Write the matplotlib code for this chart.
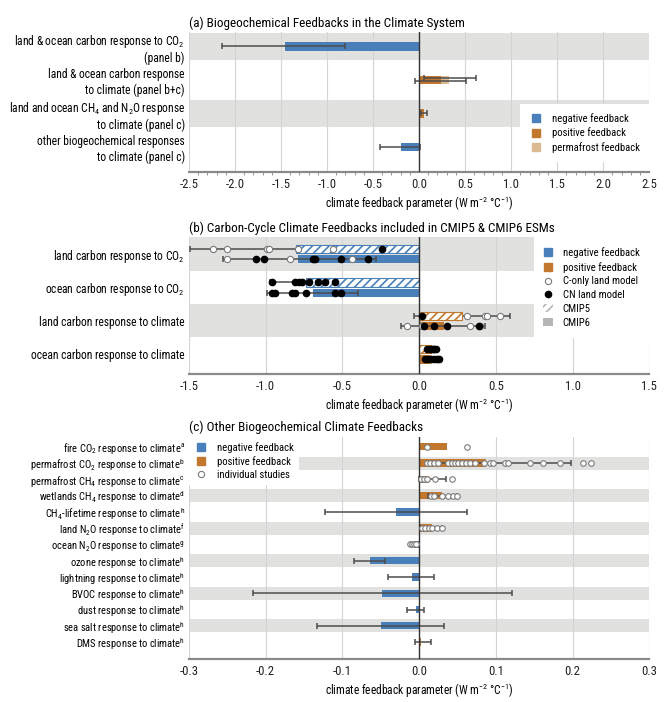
import matplotlib

matplotlib.use("Agg")
import matplotlib.pyplot as plt
import numpy as np
from matplotlib import font_manager
from matplotlib.lines import Line2D
from matplotlib.patches import Patch

# the reference uses a narrow sans; take a condensed face if one is installed
installed = {f.name for f in font_manager.fontManager.ttflist}
FONT, SCALE = "Liberation Sans", 0.82
for name in ["Liberation Sans Narrow", "Roboto Condensed", "DejaVu Sans Condensed", "Open Sans Condensed"]:
    if name in installed:
        FONT, SCALE = name, 1.0
        break

plt.rcParams["font.family"] = [FONT, "DejaVu Sans"]
plt.rcParams["mathtext.fontset"] = "custom"
plt.rcParams["mathtext.rm"] = FONT
plt.rcParams["mathtext.it"] = FONT + ":italic"
plt.rcParams["mathtext.bf"] = FONT + ":bold"
plt.rcParams["axes.unicode_minus"] = False
plt.rcParams["hatch.linewidth"] = 1.2

BLUE = "#4a80ba"
ORANGE = "#c1772e"
PERMA = "#dcbb94"
BAND = "#e1e2df"
GRID = "#d4d4d4"
WHISK = "#4d4d4d"
OPEN_EDGE = "#7a7a7a"

LABEL_FS = 8.3 * SCALE
TITLE_FS = 9.5 * SCALE
TICK_FS = 8.5 * SCALE + 0.6
LEG_FS = 7.7 * SCALE

# ---------------- panel (a) data ----------------
a_labels = [
    "land & ocean carbon response to CO$_2$\n(panel b)",
    "land & ocean carbon response\nto climate (panel b+c)",
    "land and ocean CH$_4$ and N$_2$O response\nto climate (panel c)",
    "other biogeochemical responses\nto climate (panel c)",
]
a_values = [-1.46, 0.24, 0.05, -0.20]
a_permafrost = [0.0, 0.08, 0.0, 0.0]
a_low = [-2.14, -0.04, 0.02, -0.42]
a_high = [-0.80, 0.51, 0.09, 0.01]
a_perm_low = [np.nan, 0.05, np.nan, np.nan]
a_perm_high = [np.nan, 0.62, np.nan, np.nan]

# ---------------- panel (b) data ----------------
b_labels = [
    "land carbon response to CO$_2$",
    "ocean carbon response to CO$_2$",
    "land carbon response to climate",
    "ocean carbon response to climate",
]
b_cmip5_mean = [-0.80, -0.74, 0.28, 0.08]
b_cmip6_mean = [-0.79, -0.69, 0.16, 0.07]
b_cmip5_low = [-1.49, -0.97, -0.03, 0.04]
b_cmip5_high = [-0.24, -0.52, 0.59, 0.12]
b_cmip6_low = [-1.28, -0.99, -0.12, 0.03]
b_cmip6_high = [-0.28, -0.40, 0.43, 0.13]
b_cmip5_conly = [[-1.34, -1.25, -0.99, -0.98, -0.79, -0.56], [], [0.31, 0.43, 0.44, 0.53], []]
b_cmip5_cn = [[-0.24], [-0.96, -0.81, -0.78, -0.76, -0.72, -0.66, -0.61, -0.55], [0.02],
              [0.05, 0.07, 0.08, 0.09, 0.10, 0.11]]
b_cmip6_conly = [[-1.25, -0.84, -0.44], [], [-0.08, 0.02, 0.33, 0.40], []]
b_cmip6_cn = [[-1.06, -1.01, -0.69, -0.68, -0.51, -0.33], [-0.96, -0.94, -0.83, -0.81, -0.74, -0.55, -0.51],
              [0.03, 0.10, 0.18, 0.39], [0.04, 0.05, 0.07, 0.08, 0.10, 0.12, 0.13]]

# ---------------- panel (c) data ----------------
c_labels = [
    "fire CO$_2$ response to climate$^{\\mathrm{a}}$",
    "permafrost CO$_2$ response to climate$^{\\mathrm{b}}$",
    "permafrost CH$_4$ response to climate$^{\\mathrm{c}}$",
    "wetlands CH$_4$ response to climate$^{\\mathrm{d}}$",
    "CH$_4$-lifetime response to climate$^{\\mathrm{h}}$",
    "land N$_2$O response to climate$^{\\mathrm{f}}$",
    "ocean N$_2$O response to climate$^{\\mathrm{g}}$",
    "ozone response to climate$^{\\mathrm{h}}$",
    "lightning response to climate$^{\\mathrm{h}}$",
    "BVOC response to climate$^{\\mathrm{h}}$",
    "dust response to climate$^{\\mathrm{h}}$",
    "sea salt response to climate$^{\\mathrm{h}}$",
    "DMS response to climate$^{\\mathrm{h}}$",
]
c_values = [0.036, 0.087, 0.013, 0.030, -0.030, 0.017, -0.006, -0.064, -0.009, -0.048, -0.004, -0.049, 0.003]
c_low = [np.nan, 0.010, 0.000, 0.012, -0.123, 0.003, np.nan, -0.085, -0.040, -0.217, -0.016, -0.133, -0.005]
c_high = [np.nan, 0.198, 0.035, 0.050, 0.062, 0.030, np.nan, -0.044, 0.020, 0.121, 0.007, 0.033, 0.015]
c_studies = [
    [0.010, 0.062],
    [0.010, 0.014, 0.019, 0.025, 0.038, 0.043, 0.047, 0.051, 0.056, 0.061, 0.066, 0.073, 0.084,
     0.092, 0.096, 0.112, 0.116, 0.145, 0.161, 0.184, 0.214, 0.224],
    [0.002, 0.006, 0.010, 0.021, 0.043],
    [0.015, 0.020, 0.030, 0.038, 0.044, 0.050],
    [],
    [0.004, 0.008, 0.013, 0.017, 0.023, 0.030],
    [-0.012, -0.009, -0.006, -0.004],
    [], [], [], [], [], [],
]

XLABEL = "climate feedback parameter (W m$^{-2}$ °C$^{-1}$)"


def style_axis(ax, ylim, xlim, xticks, bands, band_half, labels, fmt, label_fs=LABEL_FS):
    ax.set_xlim(*xlim)
    ax.set_ylim(*ylim)
    for r in bands:
        ax.axhspan(r - band_half, r + band_half, color=BAND, lw=0, zorder=0)
    ax.set_xticks(xticks)
    ax.set_xticklabels([fmt.format(t) for t in xticks])
    for x in xticks:
        ax.axvline(x, color=GRID, lw=0.8, zorder=0.5)
    ax.axvline(0, color="#333333", lw=1.0, zorder=4)
    for side in ["top", "right", "left"]:
        ax.spines[side].set_visible(False)
    ax.spines["bottom"].set_color("#8a8a8a")
    ax.spines["bottom"].set_linewidth(1.6)
    ax.set_yticks(range(len(labels)))
    ax.set_yticklabels(labels)
    ax.tick_params(axis="y", length=0, labelsize=label_fs, pad=3)
    ax.tick_params(axis="x", length=0, labelsize=TICK_FS, colors="#222222", pad=4)
    ax.set_xlabel(XLABEL, fontsize=LABEL_FS, labelpad=3)


def whisker(ax, lo, hi, y, zorder=3, lw=1.1, color=WHISK):
    if np.isnan(lo):
        return
    ax.plot([lo, hi], [y, y], color=color, lw=lw, zorder=zorder, solid_capstyle="butt")
    ax.plot([lo, hi], [y, y], ls="", marker="|", ms=4, mew=1.1, color=color, zorder=zorder)


def legend(ax, handles, texts, **kw):
    ax.legend(handles, texts, borderaxespad=0, fontsize=LEG_FS, frameon=True, fancybox=False,
              edgecolor="none", framealpha=1, handletextpad=0.9, **kw)


fig = plt.figure(figsize=(6.7, 7.02), dpi=100)

# ---------------- panel (a) ----------------
ax_a = fig.add_axes([0.282, 0.755, 0.687, 0.199])
style_axis(ax_a, (3.75, -0.42), (-2.5, 2.5), np.arange(-2.5, 2.51, 0.5), [0, 2], 0.4, a_labels, "{:.1f}")
ax_a.set_xticks(np.arange(-2.5, 2.51, 0.1), minor=True)
ax_a.tick_params(axis="x", which="minor", length=2.5, color="#8a8a8a")
for i, v in enumerate(a_values):
    color = BLUE if v < 0 else ORANGE
    ax_a.barh(i, v, height=0.25, color=color, zorder=2)
    if a_permafrost[i] > 0:
        ax_a.barh(i, a_permafrost[i], left=v, height=0.25, color=PERMA, zorder=2)
    if not np.isnan(a_perm_low[i]):
        whisker(ax_a, a_perm_low[i], a_perm_high[i], i - 0.06)
        whisker(ax_a, a_low[i], a_high[i], i + 0.04)
    else:
        whisker(ax_a, a_low[i], a_high[i], i)
ax_a.set_title("(a) Biogeochemical Feedbacks in the Climate System", loc="left", fontsize=TITLE_FS, pad=4)
a_handles = [Line2D([], [], ls="", marker="s", ms=5.5, color=c) for c in [BLUE, ORANGE, PERMA]]
legend(ax_a, a_handles, ["negative feedback", "positive feedback", "permafrost feedback"],
       loc="upper right", bbox_to_anchor=(1.0, 0.49), handlelength=1.2, labelspacing=0.32,
       borderpad=0.9)

# ---------------- panel (b) ----------------
ax_b = fig.add_axes([0.282, 0.467, 0.687, 0.195])
style_axis(ax_b, (3.6, -0.5), (-1.5, 1.5), np.arange(-1.5, 1.51, 0.5), [0, 2], 0.5, b_labels, "{:.1f}")
for i in range(len(b_labels)):
    y5, y6 = i - 0.15, i + 0.16
    color = BLUE if b_cmip5_mean[i] < 0 else ORANGE
    whisker(ax_b, b_cmip5_low[i], b_cmip5_high[i], y5, zorder=1.5)
    ax_b.barh(y5, b_cmip5_mean[i], height=0.25, facecolor="white", edgecolor=color,
              hatch="////", lw=0.8, zorder=2)
    ax_b.barh(y6, b_cmip6_mean[i], height=0.25, color=color, zorder=2)
    whisker(ax_b, b_cmip6_low[i], b_cmip6_high[i], y6, zorder=3)
    for y, conly, cn in [(y5, b_cmip5_conly[i], b_cmip5_cn[i]), (y6, b_cmip6_conly[i], b_cmip6_cn[i])]:
        ax_b.plot(conly, [y] * len(conly), ls="", marker="o", ms=4.5, mfc="white",
                  mec=OPEN_EDGE, mew=0.8, zorder=5)
        ax_b.plot(cn, [y] * len(cn), ls="", marker="o", ms=4.5, color="black", zorder=5)
ax_b.set_title("(b) Carbon-Cycle Climate Feedbacks included in CMIP5 & CMIP6 ESMs", loc="left",
               fontsize=TITLE_FS, pad=4)
b_handles = [
    Line2D([], [], ls="", marker="s", ms=5.5, color=BLUE),
    Line2D([], [], ls="", marker="s", ms=5.5, color=ORANGE),
    Line2D([], [], ls="", marker="o", ms=4.5, mfc="white", mec=OPEN_EDGE, mew=0.8),
    Line2D([], [], ls="", marker="o", ms=4.5, color="black"),
    Patch(facecolor="white", edgecolor="#b5b5b5", hatch="////", lw=0),
    Patch(facecolor="#b5b5b5", lw=0),
]
legend(ax_b, b_handles, ["negative feedback", "positive feedback", "C-only land model", "CN land model",
                         "CMIP5", "CMIP6"],
       loc="upper right", bbox_to_anchor=(1.0, 1.0), handlelength=0.9, handleheight=0.75,
       labelspacing=0.36, borderpad=0.9)

# ---------------- panel (c) ----------------
ax_c = fig.add_axes([0.282, 0.061, 0.687, 0.317])
style_axis(ax_c, (13.05, -0.62), (-0.3, 0.3), np.arange(-0.3, 0.31, 0.1),
           [1, 3, 5, 7, 9, 11], 0.4, c_labels, "{:.1f}", label_fs=7.6 * SCALE)
for i, v in enumerate(c_values):
    color = BLUE if v < 0 else ORANGE
    ax_c.barh(i, v, height=0.45, color=color, zorder=2)
    whisker(ax_c, c_low[i], c_high[i], i, zorder=3)
    pts = c_studies[i]
    ax_c.plot(pts, [i] * len(pts), ls="", marker="o", ms=4, mfc="white", mec=OPEN_EDGE,
              mew=0.8, zorder=5)
ax_c.set_title("(c) Other Biogeochemical Climate Feedbacks", loc="left", fontsize=TITLE_FS, pad=4)
c_handles = [
    Line2D([], [], ls="", marker="s", ms=5.5, color=BLUE),
    Line2D([], [], ls="", marker="s", ms=5.5, color=ORANGE),
    Line2D([], [], ls="", marker="o", ms=4.5, mfc="white", mec=OPEN_EDGE, mew=0.8),
]
legend(ax_c, c_handles, ["negative feedback", "positive feedback", "individual studies"],
       loc="upper left", bbox_to_anchor=(0.0, 1.0), handlelength=1.2, labelspacing=0.28,
       borderpad=0.5)

fig.savefig("out.png", dpi=100)
